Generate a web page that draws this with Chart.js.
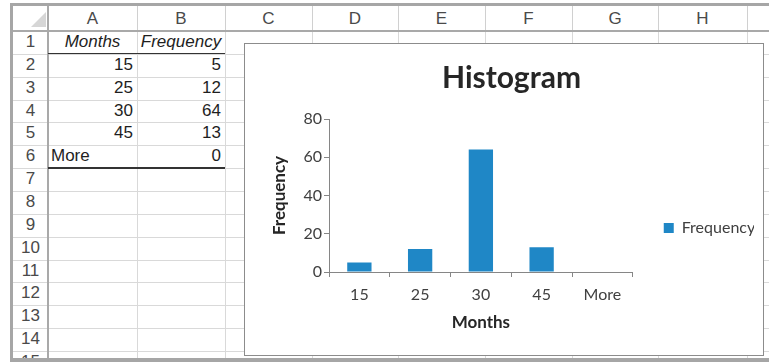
<!DOCTYPE html>
<html>
<head>
<meta charset="utf-8">
<script src="https://cdn.jsdelivr.net/npm/chart.js@4.4.1/dist/chart.umd.min.js"></script>
<style>
  body { margin: 0; background: #fff; }
  #sheet { position: relative; width: 769px; height: 362px; overflow: hidden; background: #fff;
           font-family: "Liberation Sans", Arial, sans-serif; }
  #sheet div { position: absolute; box-sizing: border-box; white-space: nowrap; }
  #chartBox { left: 244px; top: 43px; width: 520px; height: 313px; border: 1px solid #8c8c8c; background: #fff; }
  #chartBox canvas { position: absolute; left: 0; top: 0; }
</style>
</head>
<body>
<div id="sheet"></div>

<script>
// data read from the worksheet / histogram
const months = ["15", "25", "30", "45", "More"];
const frequency = [5, 12, 64, 13, 0];
const yTicks = [0, 20, 40, 60, 80];
const colLetters = ["A", "B", "C", "D", "E", "F", "G", "H", ""];

// sheet geometry
const colEdges = [48, 137, 225, 312, 398, 485, 572, 658, 747, 800];
const rowTop = 31;
const rowH = 22.85;
const nRows = 15;

const sheet = document.getElementById("sheet");

function box(x, y, w, h, css) {
  const d = document.createElement("div");
  d.style.cssText = `left:${x}px;top:${y}px;width:${w}px;height:${h}px;${css || ""}`;
  sheet.appendChild(d);
  return d;
}

function cellText(x, y, w, h, text, css) {
  const d = box(x, y, w, h, `line-height:${h}px;${css || ""}`);
  d.textContent = text;
  return d;
}

// cell grid lines
for (let r = 1; r <= nRows; r++) {
  const y = Math.round(rowTop + r * rowH);
  box(13, y, 769, 1, "background:#d9d9d9");
}
for (let c = 1; c < colEdges.length; c++) {
  box(colEdges[c], 31, 1, 331, "background:#d9d9d9");
}

// column header
for (let c = 0; c < colLetters.length; c++) {
  const x = colEdges[c];
  const w = colEdges[c + 1] - x;
  cellText(x, 6, w, 25, colLetters[c], "text-align:center;font-size:17px;color:#4a4a4a");
  box(colEdges[c + 1], 6, 1, 25, "background:#d0d0d0");
}
box(13, 30, 769, 2, "background:#a9a9a9");

// row header
for (let r = 1; r <= nRows; r++) {
  const y = rowTop + (r - 1) * rowH;
  cellText(13, y, 35, rowH, String(r), "text-align:center;font-size:17px;color:#4a4a4a");
}
box(47, 6, 2, 356, "background:#a9a9a9");
// corner triangle
box(31, 12, 0, 0, "border-style:solid;border-width:0 0 15px 15px;border-color:transparent transparent #d6d6d6 transparent");

// table values
const aX = colEdges[0], aW = colEdges[1] - colEdges[0];
const bX = colEdges[1], bW = colEdges[2] - colEdges[1];
const cellFont = "font-size:17px;color:#1e1e1e;";
cellText(aX, rowTop, aW, rowH, "Months", cellFont + "text-align:center;font-style:italic");
cellText(bX, rowTop, bW, rowH, "Frequency", cellFont + "text-align:center;font-style:italic");
box(aX, Math.round(rowTop + rowH) - 1, aW + bW, 1, "background:#333");
months.forEach((m, i) => {
  const y = rowTop + (i + 1) * rowH;
  const isNum = !isNaN(Number(m));
  cellText(aX + 3, y, aW - 7, rowH, m, cellFont + "text-align:" + (isNum ? "right" : "left"));
  cellText(bX + 3, y, bW - 7, rowH, String(frequency[i]), cellFont + "text-align:right");
});
box(aX, Math.round(rowTop + (months.length + 1) * rowH) - 1, aW + bW, 2, "background:#333");

// outer frame
box(10, 3, 759, 3, "background:#a6a6a6");
box(10, 3, 3, 359, "background:#a6a6a6");
box(10, 358, 759, 4, "background:#a6a6a6");

// chart box
const chartBox = box(244, 43, 520, 313);
chartBox.id = "chartBox";
const canvas = document.createElement("canvas");
canvas.width = 518;
canvas.height = 311;
chartBox.appendChild(canvas);

const fontFamily = "Lato, 'Open Sans', sans-serif";
const axisGray = "#868686";

// nudge the legend up a little, like Excel places it
const legendNudge = {
  id: "legendNudge",
  afterLayout(chart) {
    chart.legend.top -= 5;
    chart.legend.bottom -= 5;
  }
};

new Chart(canvas, {
  type: "bar",
  data: {
    labels: months,
    datasets: [{
      label: "Frequency",
      data: frequency,
      backgroundColor: "#1f87c6",
      borderWidth: 0,
      barPercentage: 0.4,
      categoryPercentage: 1
    }]
  },
  plugins: [legendNudge],
  options: {
    responsive: false,
    animation: false,
    devicePixelRatio: 1,
    layout: {
      padding: { left: 24, right: 9, top: 0, bottom: 22 }
    },
    plugins: {
      title: {
        display: true,
        text: "Histogram",
        color: "#262626",
        font: { family: fontFamily, size: 30, weight: "bold" },
        padding: { top: 16, bottom: 23 }
      },
      legend: {
        position: "right",
        align: "end",
        fullSize: false,
        labels: {
          color: "#404040",
          font: { family: fontFamily, size: 16 },
          boxWidth: 10,
          boxHeight: 10,
          padding: 31
        }
      },
      tooltip: { enabled: false }
    },
    scales: {
      x: {
        grid: { display: true, drawOnChartArea: false, drawTicks: true, tickLength: 5, color: axisGray },
        border: { display: true, color: axisGray },
        ticks: { color: "#404040", font: { family: fontFamily, size: 16 }, padding: 8 },
        title: {
          display: true,
          text: "Months",
          color: "#262626",
          font: { family: fontFamily, size: 17, weight: "bold" },
          padding: 0
        },
        afterFit: (scale) => { scale.height = 61; }
      },
      y: {
        min: yTicks[0],
        max: yTicks[yTicks.length - 1],
        grid: { display: true, drawOnChartArea: false, drawTicks: true, tickLength: 5, color: axisGray },
        border: { display: true, color: axisGray },
        ticks: {
          stepSize: yTicks[1] - yTicks[0],
          color: "#404040",
          font: { family: fontFamily, size: 16 },
          padding: 2
        },
        title: {
          display: true,
          text: "Frequency",
          color: "#262626",
          font: { family: fontFamily, size: 17, weight: "bold" },
          padding: 0
        },
        afterFit: (scale) => { scale.width = 60; }
      }
    }
  }
});
</script>
</body>
</html>
